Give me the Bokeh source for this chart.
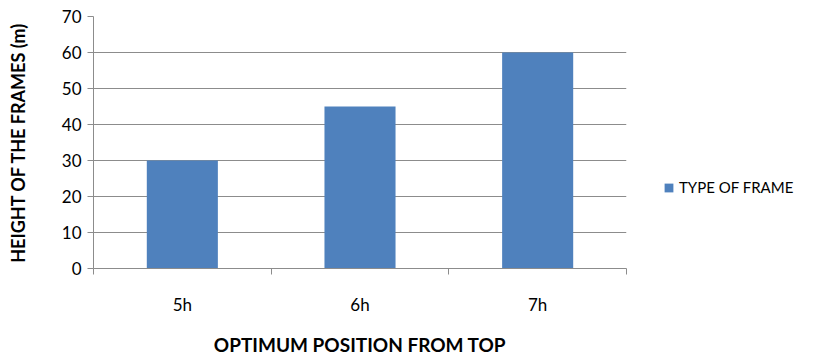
from bokeh.plotting import figure
from bokeh.models import (ColumnDataSource, Range1d, FixedTicker, Legend, LegendItem)
from bokeh.embed import file_html
from bokeh.resources import INLINE

categories = ["5h", "6h", "7h"]
values = [30, 45, 60]
series_name = "TYPE OF FRAME"
y_ticks = [0, 10, 20, 30, 40, 50, 60, 70]

x_pos = [i + 0.5 for i in range(len(categories))]
source = ColumnDataSource(dict(x=x_pos, top=values, cat=categories))

FONT = "Lato"
GRID = "#8c8c8c"
BAR = "#4f81bd"

p = figure(frame_width=533, frame_height=252, output_backend="svg", toolbar_location=None,
           x_range=Range1d(0, len(categories)), y_range=Range1d(0, 70),
           min_border_left=93, min_border_right=196, min_border_top=16, min_border_bottom=90)
p.outline_line_color = None
p.background_fill_color = "white"

r = p.vbar(x="x", top="top", width=0.4, source=source, fill_color=BAR, line_color=None)
# invisible spacer used only to push the legend entry downward
spacer = p.vbar(x=[], top=[], width=0.4, fill_alpha=0, line_alpha=0)

# y axis
p.yaxis.ticker = FixedTicker(ticks=y_ticks)
p.yaxis.axis_line_color = GRID
p.yaxis.major_tick_line_color = GRID
p.yaxis.major_tick_out = 6
p.yaxis.major_tick_in = 0
p.yaxis.minor_tick_line_color = None
p.yaxis.major_label_text_font = FONT
p.yaxis.major_label_text_font_size = "17px"
p.yaxis.major_label_text_color = "#000000"
p.yaxis.major_label_standoff = 6
p.yaxis.axis_label = "HEIGHT OF THE FRAMES (m)"
p.yaxis.axis_label_text_font = FONT
p.yaxis.axis_label_text_font_size = "18px"
p.yaxis.axis_label_text_font_style = "bold"
p.yaxis.axis_label_text_color = "#000000"
p.yaxis.axis_label_standoff = 30

# x axis
p.xaxis.ticker = FixedTicker(ticks=x_pos, minor_ticks=list(range(len(categories) + 1)))
p.xaxis.major_label_overrides = {x: c for x, c in zip(x_pos, categories)}
p.xaxis.axis_line_color = GRID
p.xaxis.major_tick_line_color = None
p.xaxis.minor_tick_line_color = GRID
p.xaxis.minor_tick_out = 6
p.xaxis.minor_tick_in = 0
p.xaxis.major_label_text_font = FONT
p.xaxis.major_label_text_font_size = "17px"
p.xaxis.major_label_text_color = "#000000"
p.xaxis.major_label_standoff = 19
p.xaxis.axis_label = "OPTIMUM POSITION FROM TOP"
p.xaxis.axis_label_text_font = FONT
p.xaxis.axis_label_text_font_size = "19px"
p.xaxis.axis_label_text_font_style = "bold"
p.xaxis.axis_label_text_color = "#000000"
p.xaxis.axis_label_standoff = 15

p.xgrid.grid_line_color = None
p.ygrid.grid_line_color = GRID
p.ygrid.ticker = FixedTicker(ticks=y_ticks)

legend = Legend(items=[LegendItem(label=" ", renderers=[spacer]),
                       LegendItem(label=series_name, renderers=[r])],
                location="left", border_line_color=None, background_fill_alpha=0,
                label_text_font=FONT, label_text_font_size="15px", label_text_color="#000000",
                glyph_width=11, glyph_height=11, label_height=20, label_standoff=5,
                spacing=70, padding=0, margin=37)
p.add_layout(legend, "right")

open("out.html", "w").write(file_html(p, INLINE))
